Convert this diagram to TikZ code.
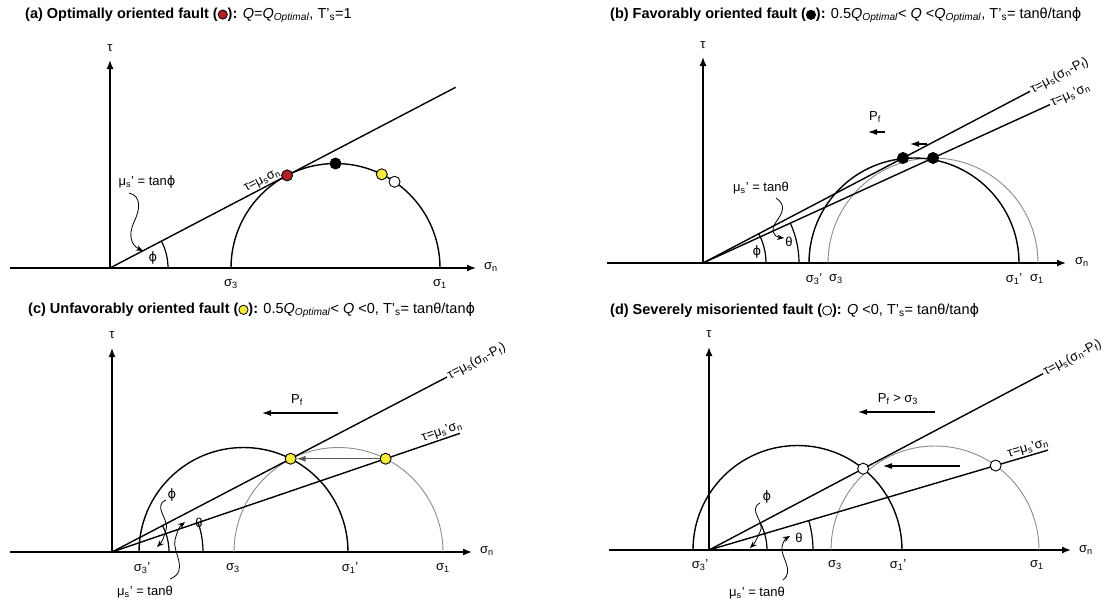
\documentclass[tikz,border=0pt]{standalone}
\usepackage{fontspec}
\setmainfont{Liberation Sans}
\newfontfamily\dvs{DejaVu Sans}
\usetikzlibrary{arrows.meta,calc}
\definecolor{dred}{RGB}{180,30,40}
\definecolor{dyel}{RGB}{246,236,60}
\newcommand{\lsb}[1]{\textsubscript{#1}}
\newcommand{\fphi}{{\dvs ϕ}}
\newcommand{\titledot}[1]{\tikz[baseline=-0.45ex]\draw[fill=#1,line width=0.8pt] (0,0) circle[radius=4.6pt];}
\tikzset{
  axis/.style={line width=1.4pt, -{Latex[length=9pt,width=7pt]}},
  ln/.style={line width=1.4pt},
  bcirc/.style={line width=1.4pt},
  gcirc/.style={line width=0.9pt, draw=black!45},
  ang/.style={line width=1.2pt},
  pfarrow/.style={line width=1.1pt, -{Latex[length=9pt,width=6pt]}},
  curl/.style={line width=0.8pt, -{Stealth[length=7pt,width=5.5pt]}},
  dot/.style={circle, draw=black, line width=0.9pt, minimum size=11pt, inner sep=0pt},
  lbl/.style={font=\fontsize{13}{15}\selectfont, inner sep=1pt},
  ttl/.style={font=\fontsize{14.5}{17}\selectfont, anchor=west, inner sep=0pt}
}
\begin{document}
\begin{tikzpicture}[x=1pt,y=1pt]
\fill[white] (0,-603) rectangle (1117,0);
\useasboundingbox (0,-603) rectangle (1117,0);

% ---------- titles ----------
\node[ttl] (ta) at (25,-15) {\textbf{(a) Optimally oriented fault (\titledot{dred}):} \textit{Q}=\textit{Q}\lsb{\textit{Optimal}}, T'\lsb{s}=1};
\node[ttl] (tb) at (610,-15) {\textbf{(b) Favorably oriented fault (\titledot{black}):} 0.5\textit{Q}\lsb{\textit{Optimal}}< \textit{Q} <\textit{Q}\lsb{\textit{Optimal}}, T'\lsb{s}= tanθ/tan\fphi};
\node[ttl] (tc) at (28,-310) {\textbf{(c) Unfavorably oriented fault (\titledot{dyel}):} 0.5\textit{Q}\lsb{\textit{Optimal}}< \textit{Q} <0, T'\lsb{s}= tanθ/tan\fphi};
\node[ttl] (td) at (610,-310) {\textbf{(d) Severely misoriented fault (\titledot{white}):} \textit{Q} <0, T'\lsb{s}= tanθ/tan\fphi};

% ================= panel (a) =================
\coordinate (Oa) at (110,-268);
\coordinate (XLa) at (10,-268);
\coordinate (XRa) at (476,-268);
\coordinate (YTa) at (110,-60);
\coordinate (Ca) at (335.5,-268);
\path (Oa) ++(27.6:390) coordinate (La);
\draw[ln] (XLa) -- (Oa);
\draw[axis] (Oa) -- (XRa);
\draw[axis] (Oa) -- (YTa);
\node[lbl] (sna) at (491,-267) {σ\lsb{n}};
\node[lbl] (taua) at (110,-48) {τ};
\draw[bcirc] (231,-268) arc[start angle=180,end angle=0,radius=104.5];
\draw[ln] (Oa) -- (La) node[lbl, pos=0.45, sloped, above] (lla) {τ=μ\lsb{s}σ\lsb{n}};
\draw[ang] ($(Oa)+(58,0)$) arc[start angle=0,end angle=27.6,radius=58];
\node[lbl] (phia) at (153,-258) {\fphi};
\node[lbl] (mua) at (147,-182) {μ\lsb{s}' = tan\fphi};
\coordinate (cua1) at (129,-193);
\coordinate (cua2) at (143,-251);
\draw[curl] (cua1) .. controls (142,-196) and (140,-210) .. (134,-222) .. controls (128,-235) and (131,-245) .. (cua2);
\node[dot,fill=dred] (ra) at ($(Ca)+(117.6:104.5)$) {};
\node[dot,fill=black] (ka) at ($(Ca)+(90:104.5)$) {};
\node[dot,fill=dyel] (ya) at ($(Ca)+(63.7:104.5)$) {};
\node[dot,fill=white] (wa) at ($(Ca)+(55.6:104.5)$) {};
\node[lbl] (s3a) at (231,-284) {σ\lsb{3}};
\node[lbl] (s1a) at (440,-284) {σ\lsb{1}};

% ================= panel (b) =================
\coordinate (Ob) at (703,-263);
\coordinate (XLb) at (607,-263);
\coordinate (XRb) at (1066,-263);
\coordinate (YTb) at (703,-57);
\path (Ob) ++(27.7:369.3) coordinate (Lb1);
\path (Ob) ++(24.54:381.4) coordinate (Lb2);
\draw[ln] (XLb) -- (Ob);
\draw[axis] (Ob) -- (XRb);
\draw[axis] (Ob) -- (YTb);
\node[lbl] (snb) at (1082,-262) {σ\lsb{n}};
\node[lbl] (taub) at (703,-45) {τ};
\draw[gcirc] (828,-263) arc[start angle=180,end angle=0,radius=105];
\draw[bcirc] (809,-263) arc[start angle=180,end angle=0,radius=105];
\draw[ln] (Ob) -- (Lb1) node[lbl, pos=1, sloped, anchor=west] (llb1) {τ=μ\lsb{s}(σ\lsb{n}-P\lsb{f})};
\draw[ln] (Ob) -- (Lb2) node[lbl, pos=1, sloped, anchor=west] (llb2) {τ=μ\lsb{s}'σ\lsb{n}};
\draw[ang] ($(Ob)+(63,0)$) arc[start angle=0,end angle=27.7,radius=63];
\draw[ang] ($(Ob)+(96,0)$) arc[start angle=0,end angle=24.54,radius=96];
\node[lbl] (phib) at (757,-252) {\fphi};
\node[lbl] (thb) at (789,-242) {θ};
\node[lbl] (mub) at (761,-188) {μ\lsb{s}' = tanθ};
\coordinate (cub1) at (776,-198);
\coordinate (cub2) at (784,-238);
\draw[curl] (cub1) .. controls (787,-205) and (782,-214) .. (776,-222) .. controls (770,-230) and (774,-237) .. (cub2);
\node[lbl] (pfb) at (875,-117) {P\lsb{f}};
\coordinate (pb1) at (885,-132);
\coordinate (pb2) at (868,-132);
\draw[pfarrow] (pb1) -- (pb2);
\coordinate (qb1) at (927,-144);
\coordinate (qb2) at (910,-144);
\draw[pfarrow] (qb1) -- (qb2);
\node[dot,fill=black] (kb1) at (903,-158) {};
\node[dot,fill=black] (kb2) at (933,-158) {};
\node[lbl] (s3pb) at (814,-279) {σ\lsb{3}'};
\node[lbl] (s3b) at (836,-279) {σ\lsb{3}};
\node[lbl] (s1pb) at (1014,-279) {σ\lsb{1}'};
\node[lbl] (s1b) at (1037,-279) {σ\lsb{1}};

% ================= panel (c) =================
\coordinate (Oc) at (112,-552);
\coordinate (XLc) at (10,-552);
\coordinate (XRc) at (472,-552);
\coordinate (YTc) at (112,-348);
\coordinate (Cc1) at (243.5,-552);
\coordinate (Cc2) at (338.5,-552);
\path (Oc) ++(27.58:378) coordinate (Lc1);
\path (Oc) ++(18.83:367.7) coordinate (Lc2);
\draw[ln] (XLc) -- (Oc);
\draw[axis] (Oc) -- (XRc);
\draw[axis] (Oc) -- (YTc);
\node[lbl] (snc) at (487,-551) {σ\lsb{n}};
\node[lbl] (tauc) at (112,-335) {τ};
\draw[gcirc] (234,-552) arc[start angle=180,end angle=0,radius=104.5];
\draw[bcirc] (139,-552) arc[start angle=180,end angle=0,radius=104.5];
\draw[ln] (Oc) -- (Lc1) node[lbl, pos=1, sloped, anchor=west] (llc1) {τ=μ\lsb{s}(σ\lsb{n}-P\lsb{f})};
\draw[ln] (Oc) -- (Lc2) node[lbl, pos=1, sloped, anchor=south east, xshift=6pt] (llc2) {τ=μ\lsb{s}'σ\lsb{n}};
\draw[ang] ($(Oc)+(57,0)$) arc[start angle=0,end angle=27.58,radius=57];
\draw[ang] ($(Oc)+(91,0)$) arc[start angle=0,end angle=18.83,radius=91];
\node[lbl] (phic) at (172,-495) {\fphi};
\node[lbl] (thc) at (199,-523) {θ};
\node[lbl] (muc) at (145,-592) {μ\lsb{s}' = tanθ};
\coordinate (cuc1) at (166,-500);
\coordinate (cuc2) at (157,-547);
\draw[curl] (cuc1) .. controls (152,-506) and (170,-520) .. (166,-530) .. controls (164,-537) and (162,-542) .. (cuc2);
\coordinate (cuc3) at (170,-579);
\coordinate (cuc4) at (185,-522);
\draw[curl] (cuc3) .. controls (190,-571) and (172,-552) .. (175,-540) .. controls (177,-532) and (179,-527) .. (cuc4);
\coordinate (pc1) at (338,-413);
\coordinate (pc2) at (262,-413);
\draw[pfarrow] (pc1) -- (pc2);
\node[lbl] (pfc) at (297,-400) {P\lsb{f}};
\node[dot,fill=dyel] (yc1) at ($(Cc1)+(63.2:104.5)$) {};
\node[dot,fill=dyel] (yc2) at ($(Cc2)+(63.2:104.5)$) {};
\draw[pfarrow, draw=black!65] (yc2) -- (yc1);
\node[lbl] (s3pc) at (142,-568) {σ\lsb{3}'};
\node[lbl] (s3c) at (233,-568) {σ\lsb{3}};
\node[lbl] (s1pc) at (350,-568) {σ\lsb{1}'};
\node[lbl] (s1c) at (443,-568) {σ\lsb{1}};

% ================= panel (d) =================
\coordinate (Od) at (709,-550);
\coordinate (XLd) at (609,-550);
\coordinate (XRd) at (1071,-550);
\coordinate (YTd) at (709,-347);
\coordinate (Cd1) at (797.5,-550);
\coordinate (Cd2) at (935,-550);
\path (Od) ++(27.82:377.7) coordinate (Ld1);
\path (Od) ++(16.42:353.4) coordinate (Ld2);
\draw[ln] (XLd) -- (Od);
\draw[axis] (Od) -- (XRd);
\draw[axis] (Od) -- (YTd);
\node[lbl] (snd) at (1086,-550) {σ\lsb{n}};
\node[lbl] (taud) at (709,-334) {τ};
\draw[gcirc] (831,-550) arc[start angle=180,end angle=0,radius=104];
\draw[bcirc] (693,-550) arc[start angle=180,end angle=0,radius=104.5];
\draw[ln] (Od) -- (Ld1) node[lbl, pos=1, sloped, anchor=west] (lld1) {τ=μ\lsb{s}(σ\lsb{n}-P\lsb{f})};
\draw[ln] (Od) -- (Ld2) node[lbl, pos=1, sloped, anchor=south east, xshift=4pt] (lld2) {τ=μ\lsb{s}'σ\lsb{n}};
\draw[ang] ($(Od)+(58,0)$) arc[start angle=0,end angle=27.82,radius=58];
\draw[ang] ($(Od)+(104,0)$) arc[start angle=0,end angle=16.42,radius=104];
\node[lbl] (phid) at (767,-497) {\fphi};
\node[lbl] (thd) at (799,-538) {θ};
\node[lbl] (mud) at (757,-593) {μ\lsb{s}' = tanθ};
\coordinate (cud1) at (760,-503);
\coordinate (cud2) at (750,-548);
\draw[curl] (cud1) .. controls (747,-510) and (766,-522) .. (760,-532) .. controls (757,-538) and (755,-543) .. (cud2);
\coordinate (cud3) at (783,-580);
\coordinate (cud4) at (790,-536);
\draw[curl] (cud3) .. controls (795,-571) and (780,-556) .. (782,-547) .. controls (783,-542) and (785,-539) .. (cud4);
\coordinate (pd1) at (935,-412);
\coordinate (pd2) at (858,-412);
\draw[pfarrow] (pd1) -- (pd2);
\node[lbl] (pfd) at (898,-399) {P\lsb{f} > σ\lsb{3}};
\node[dot,fill=white] (wd1) at ($(Cd1)+(51.1:104.5)$) {};
\node[dot,fill=white] (wd2) at ($(Cd2)+(54.3:104)$) {};
\coordinate (ad1) at (960,-466);
\coordinate (ad2) at (883,-466);
\draw[pfarrow] (ad1) -- (ad2);
\node[lbl] (s3pd) at (700,-565) {σ\lsb{3}'};
\node[lbl] (s3d) at (835,-565) {σ\lsb{3}};
\node[lbl] (s1pd) at (898,-565) {σ\lsb{1}'};
\node[lbl] (s1d) at (1037,-565) {σ\lsb{1}};
\end{tikzpicture}
\end{document}
